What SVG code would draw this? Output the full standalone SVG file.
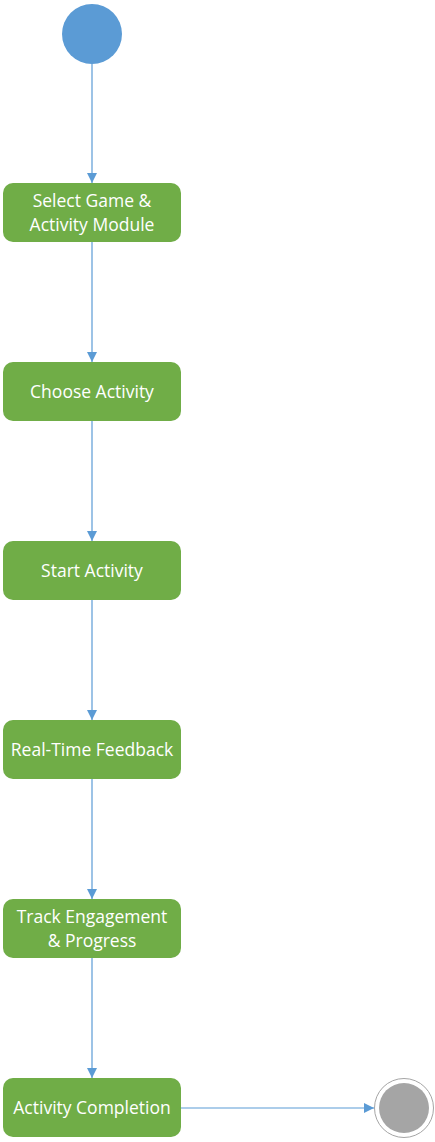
<svg xmlns="http://www.w3.org/2000/svg" width="435" height="1142" viewBox="0 0 435 1142">
<style>
.box{fill:#70AD47;}
.lbl{font-family:"Open Sans","Liberation Sans",Arial,sans-serif;font-size:17.5px;fill:#FFFFFF;text-anchor:middle;}
.edge{stroke:#5B9BD5;stroke-width:1.2;fill:none;marker-end:url(#arr);}
</style>
<defs>
<marker id="arr" viewBox="0 0 10 10" refX="10" refY="5" markerWidth="10" markerHeight="10" markerUnits="userSpaceOnUse" orient="auto">
<path d="M0,0 L10,5 L0,10 Z" fill="#5B9BD5"/>
</marker>
</defs>
<rect width="435" height="1142" fill="#FFFFFF"/>
<g id="edges">
<line class="edge" x1="92" y1="64" x2="92" y2="183"/>
<line class="edge" x1="92" y1="242" x2="92" y2="362"/>
<line class="edge" x1="92" y1="421" x2="92" y2="541"/>
<line class="edge" x1="92" y1="600" x2="92" y2="720"/>
<line class="edge" x1="92" y1="779" x2="92" y2="899"/>
<line class="edge" x1="92" y1="958" x2="92" y2="1078"/>
<line class="edge" x1="181" y1="1108" x2="374" y2="1108"/>
</g>
<g id="start"><circle cx="92" cy="34" r="30" fill="#5B9BD5"/></g>
<g id="n1"><rect class="box" x="3" y="183" width="178" height="59" rx="10"/><text class="lbl" x="92" y="207">Select Game &amp;</text><text class="lbl" x="92" y="231">Activity Module</text></g>
<g id="n2"><rect class="box" x="3" y="362" width="178" height="59" rx="10"/><text class="lbl" x="92" y="398">Choose Activity</text></g>
<g id="n3"><rect class="box" x="3" y="541" width="178" height="59" rx="10"/><text class="lbl" x="92" y="577">Start Activity</text></g>
<g id="n4"><rect class="box" x="3" y="720" width="178" height="59" rx="10"/><text class="lbl" x="92" y="756">Real-Time Feedback</text></g>
<g id="n5"><rect class="box" x="3" y="899" width="178" height="59" rx="10"/><text class="lbl" x="92" y="923">Track Engagement</text><text class="lbl" x="92" y="947">&amp; Progress</text></g>
<g id="n6"><rect class="box" x="3" y="1078" width="178" height="59" rx="10"/><text class="lbl" x="92" y="1114">Activity Completion</text></g>
<g id="end"><circle cx="404" cy="1108" r="29.5" fill="#FFFFFF" stroke="#A5A5A5" stroke-width="1"/><circle cx="404" cy="1108" r="25" fill="#A5A5A5"/></g>
</svg>
